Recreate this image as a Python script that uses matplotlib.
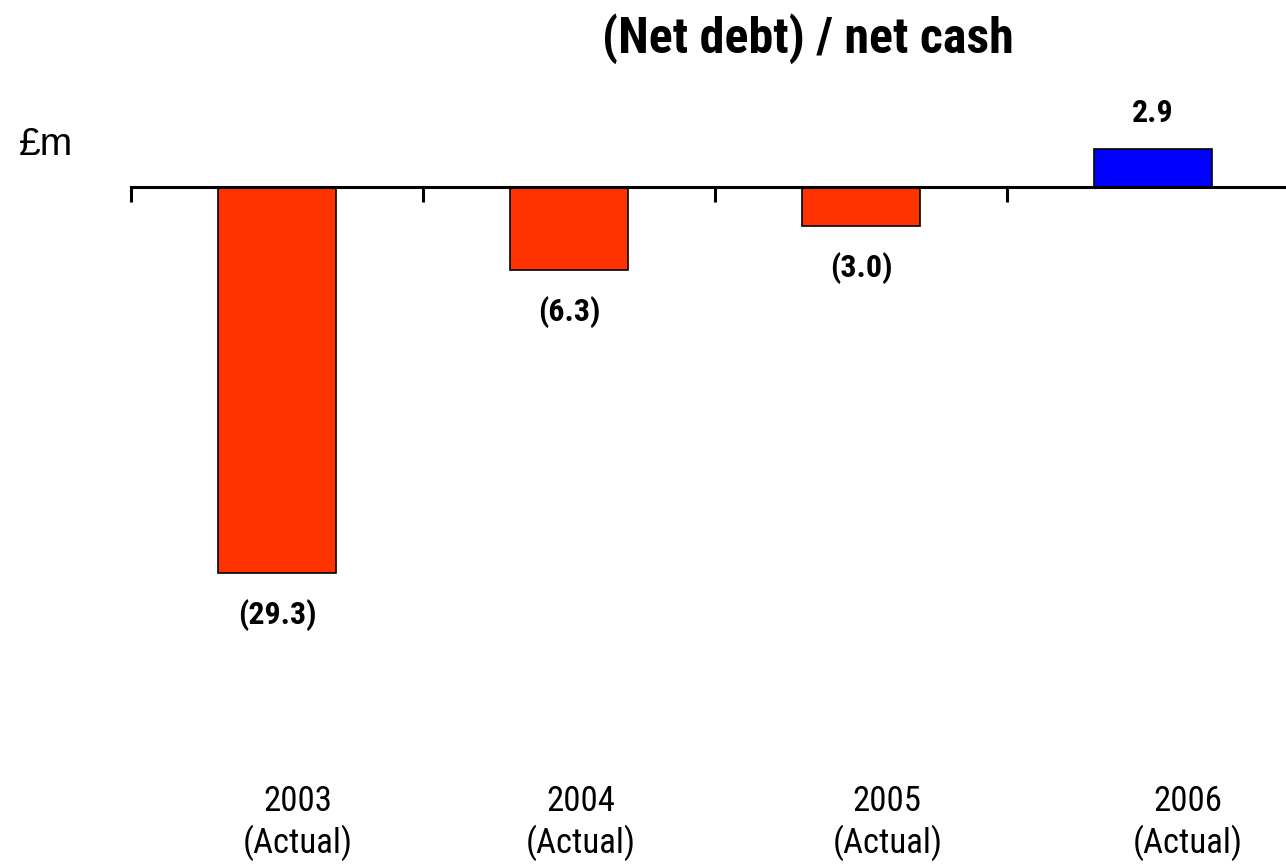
import matplotlib
matplotlib.use("Agg")
import matplotlib.pyplot as plt
import matplotlib.transforms as mtransforms
from matplotlib import font_manager

years = ["2003", "2004", "2005", "2006"]
net_cash = [-29.3, -6.3, -3.0, 2.9]
value_labels = ["(29.3)", "(6.3)", "(3.0)", "2.9"]
bar_colors = ["#FF3300", "#FF3300", "#FF3300", "#0000FF"]

# prefer a narrow sans face if one is installed
installed = {f.name for f in font_manager.fontManager.ttflist}
narrow = [n for n in ["Liberation Sans Narrow", "Roboto Condensed",
                      "Open Sans Condensed", "Noto Sans Condensed",
                      "DejaVu Sans Condensed"] if n in installed]
plt.rcParams["font.family"] = narrow + ["Liberation Sans", "DejaVu Sans"]
plt.rcParams["font.stretch"] = "condensed"

fig = plt.figure(figsize=(12.86, 8.65), dpi=100)
# axes box: x 131..1286 px, y 100..700 px from the top
ax = fig.add_axes([131 / 1286, 1 - 700 / 865, 1155 / 1286, 600 / 865])

x = list(range(len(years)))
ax.bar(x, net_cash, width=0.404, color=bar_colors, edgecolor="black",
       linewidth=1.2, zorder=2)

ax.set_xlim(-0.5, 3.455)
ax.set_ylim(-38.95, 6.6)

for s in ["top", "right", "left"]:
    ax.spines[s].set_visible(False)
ax.spines["bottom"].set_position(("data", 0))
ax.spines["bottom"].set_linewidth(2.2)
ax.spines["bottom"].set_zorder(3)
ax.set_yticks([])
ax.set_xticks([-0.5, 0.5, 1.5, 2.5])
ax.set_xticklabels([])
ax.tick_params(axis="x", direction="out", length=11, width=2.2)

# value labels under negative bars, above positive ones
for xi, v, lab in zip(x, net_cash, value_labels):
    if v < 0:
        ax.annotate(lab, (xi, v), xytext=(0, -30), textcoords="offset points",
                    ha="center", va="center", fontsize=23, fontweight="bold")
    else:
        ax.annotate(lab, (xi, v), xytext=(0, 26), textcoords="offset points",
                    ha="center", va="center", fontsize=23, fontweight="bold")

# category labels below the plot
trans = mtransforms.blended_transform_factory(ax.transData, fig.transFigure)
label_shift = [0.07, 0.04, 0.09, 0.12]
for xi, yr, dx in zip(x, years, label_shift):
    fig.text(xi + dx, 1 - 823 / 865, f"{yr}\n(Actual)", transform=trans,
             ha="center", va="center", fontsize=25, linespacing=1.25)

fig.text(808 / 1286, 1 - 39 / 865, "(Net debt) / net cash", ha="center",
         va="center", fontsize=36, fontweight="bold")
fig.text(19 / 1286, 1 - 145 / 865, "£m", ha="left", va="center", fontsize=28,
         family=["Liberation Sans", "DejaVu Sans"], stretch="normal")

fig.savefig("out.png", dpi=100)
